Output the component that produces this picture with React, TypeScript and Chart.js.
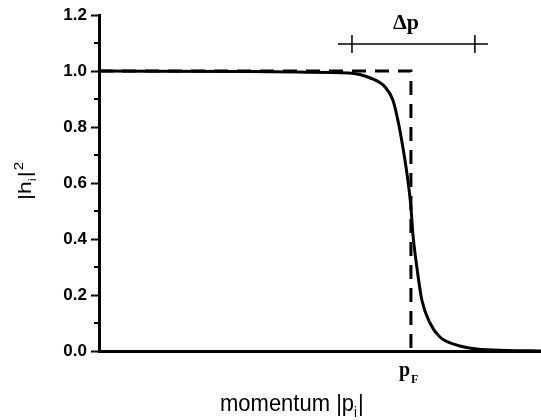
import React, { useEffect, useRef } from "react";
import { Chart, registerables } from "chart.js";

Chart.register(...registerables);

// Smeared (solid) occupation curve
const momentum = [0, 0.48, 0.64, 0.8, 0.87, 0.917, 0.942, 0.958, 0.974, 0.987, 1.0, 1.006, 1.019, 1.035, 1.061, 1.093, 1.147, 1.212, 1.308, 1.417];
const occupation = [1.0, 0.998, 0.996, 0.993, 0.975, 0.943, 0.896, 0.825, 0.729, 0.636, 0.514, 0.421, 0.3, 0.182, 0.1, 0.05, 0.021, 0.007, 0.002, 0.0];

// Sharp (dashed) Fermi step
const stepMomentum = [0, 1.0, 1.0];
const stepOccupation = [1.0, 1.0, 0.0];

const fermiMomentum = 1.0;
const xMin = 0;
const xMax = 1.417;
const yMin = 0;
const yMax = 1.2;
const yStep = 0.2;
const minorTicks = [0.1, 0.3, 0.5, 0.7, 0.9, 1.1];

// Delta p bracket
const deltaLineStart = 0.766;
const deltaLineEnd = 1.247;
const deltaTicks = [0.811, 1.205];
const deltaLevel = 1.096;
const deltaLabelX = 0.984;

const annotations = {
  id: "annotations",
  afterDraw(chart: any) {
    const { ctx, scales } = chart;
    const x = scales.x;
    const y = scales.y;
    ctx.save();
    ctx.strokeStyle = "#000";
    ctx.fillStyle = "#000";

    // minor ticks
    ctx.lineWidth = 2;
    for (const v of minorTicks) {
      const py = y.getPixelForValue(v);
      ctx.beginPath();
      ctx.moveTo(x.left - 5, py);
      ctx.lineTo(x.left, py);
      ctx.stroke();
    }

    // delta p bracket
    const py = y.getPixelForValue(deltaLevel);
    ctx.lineWidth = 1.5;
    ctx.beginPath();
    ctx.moveTo(x.getPixelForValue(deltaLineStart), py);
    ctx.lineTo(x.getPixelForValue(deltaLineEnd), py);
    ctx.stroke();
    for (const t of deltaTicks) {
      const px = x.getPixelForValue(t);
      ctx.beginPath();
      ctx.moveTo(px, py - 9);
      ctx.lineTo(px, py + 9);
      ctx.stroke();
    }
    ctx.font = "bold 22px 'Liberation Serif', serif";
    ctx.textAlign = "center";
    ctx.textBaseline = "alphabetic";
    ctx.fillText("\u0394p", x.getPixelForValue(deltaLabelX), py - 15);

    // p_F label
    const pfx = x.getPixelForValue(fermiMomentum);
    const base = y.bottom + 25;
    ctx.textAlign = "left";
    ctx.font = "bold 20px 'Liberation Serif', serif";
    ctx.fillText("p", pfx - 12, base);
    const pw = ctx.measureText("p").width;
    ctx.font = "bold 12px 'Liberation Serif', serif";
    ctx.fillText("F", pfx - 12 + pw + 1, base + 7);

    // x title: momentum |p_i|
    ctx.save();
    ctx.translate(220, 411);
    ctx.scale(1, 1.12);
    let cx = 0;
    ctx.font = "22px 'Liberation Sans', Arial, sans-serif";
    const main = "momentum |p";
    ctx.fillText(main, cx, 0);
    cx += ctx.measureText(main).width;
    ctx.font = "13px 'Liberation Sans', Arial, sans-serif";
    ctx.fillText("i", cx, 5);
    cx += ctx.measureText("i").width + 1;
    ctx.font = "22px 'Liberation Sans', Arial, sans-serif";
    ctx.fillText("|", cx, 0);
    ctx.restore();

    // y title: |h_i|^2 rotated
    ctx.save();
    ctx.translate(31, 200);
    ctx.rotate(-Math.PI / 2);
    ctx.scale(1, 0.82);
    let lx = 0;
    ctx.font = "23px 'Liberation Sans', Arial, sans-serif";
    ctx.fillText("|h", lx, 0);
    lx += ctx.measureText("|h").width;
    ctx.font = "13px 'Liberation Sans', Arial, sans-serif";
    ctx.fillText("i", lx, 6);
    lx += ctx.measureText("i").width + 1;
    ctx.font = "23px 'Liberation Sans', Arial, sans-serif";
    ctx.fillText("|", lx, 0);
    lx += ctx.measureText("|").width + 1;
    ctx.font = "15px 'Liberation Sans', Arial, sans-serif";
    ctx.fillText("2", lx, -10);
    ctx.restore();

    ctx.restore();
  },
};

export default function App() {
  const ref = useRef<HTMLCanvasElement | null>(null);

  useEffect(() => {
    if (!ref.current) return;
    const chart = new Chart(ref.current, {
      type: "line",
      data: {
        datasets: [
          {
            data: momentum.map((m, i) => ({ x: m, y: occupation[i] })),
            borderColor: "#000",
            borderWidth: 3,
            pointRadius: 0,
            cubicInterpolationMode: "monotone",
            fill: false,
          },
          {
            data: stepMomentum.map((m, i) => ({ x: m, y: stepOccupation[i] })),
            borderColor: "#000",
            borderWidth: 3,
            borderDash: [14, 9],
            pointRadius: 0,
            tension: 0,
            fill: false,
          },
        ],
      },
      options: {
        animation: false,
        responsive: false,
        devicePixelRatio: 1,
        layout: { padding: { top: 15, right: 0, left: 0, bottom: 0 } },
        plugins: {
          legend: { display: false },
          tooltip: { enabled: false },
        },
        scales: {
          x: {
            type: "linear",
            min: xMin,
            max: xMax,
            grid: { display: false },
            ticks: { display: false },
            border: { display: true, color: "#000", width: 3 },
            afterFit: (s: any) => {
              s.height = 69;
            },
          },
          y: {
            type: "linear",
            min: yMin,
            max: yMax,
            ticks: {
              stepSize: yStep,
              color: "#000",
              padding: 4,
              font: { family: "'Liberation Sans', Arial, sans-serif", size: 17, weight: "bold" },
              callback: (v: any) => Number(v).toFixed(1),
            },
            grid: {
              display: true,
              drawOnChartArea: false,
              drawTicks: true,
              tickLength: 8,
              tickColor: "#000",
              tickWidth: 2,
            },
            border: { display: true, color: "#000", width: 3 },
            afterFit: (s: any) => {
              s.width = 99;
            },
          },
        },
      },
      plugins: [annotations],
    });
    return () => chart.destroy();
  }, []);

  return (
    <div style={{ position: "fixed", left: 0, top: 0, width: 541, height: 420, background: "#fff" }}>
      <canvas ref={ref} width={541} height={420} />
    </div>
  );
}
